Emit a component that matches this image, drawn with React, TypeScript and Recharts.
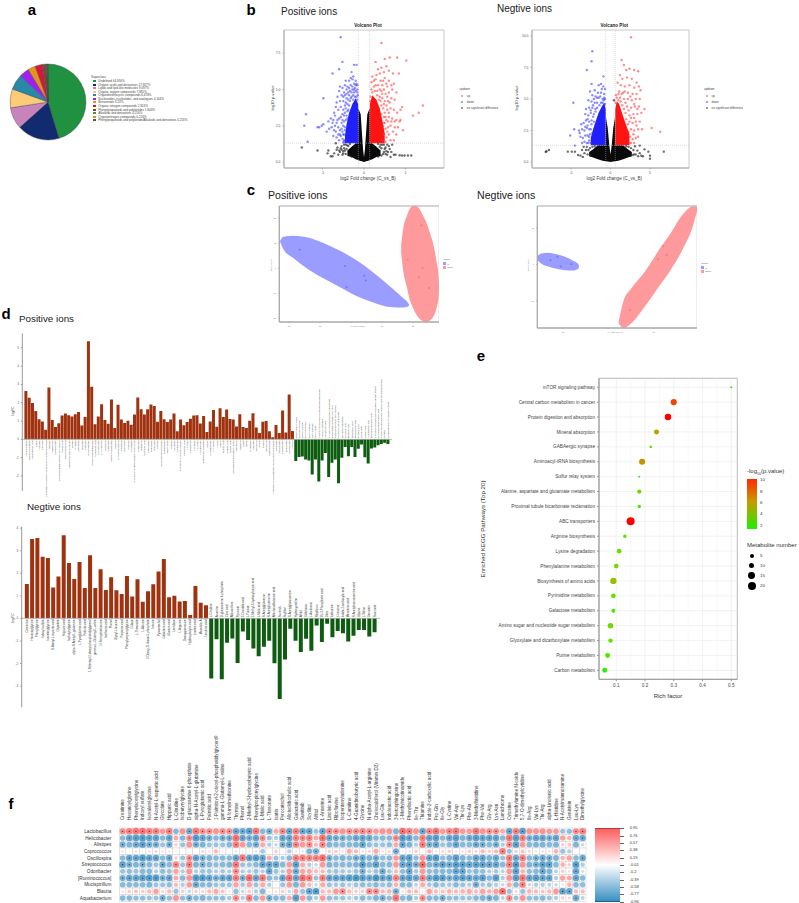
import { Area, Bar, BarChart, CartesianGrid, Cell, ComposedChart, LabelList, Pie, PieChart, ReferenceArea, ReferenceLine, Scatter, ScatterChart, XAxis, YAxis, ZAxis } from 'recharts';

const FONT = '"Liberation Sans", Arial, sans-serif';

// a: superclass pie
const superclassNames = [
  'Undefined 44.950%', 'Organic acids and derivatives 17.927%', 'Lipids and lipid-like molecules 9.097%',
  'Organic oxygen compounds 7.981%', 'Organoheterocyclic compounds 6.478%', 'Nucleosides, nucleotides, and analogues 4.144%',
  'Benzenoids 3.24%', 'Organic nitrogen compounds 2.924%', 'Phenylpropanoids and polyketides 1.844%',
  'Alkaloids and derivatives 0.216%', 'Organonitrogen compounds 0.216%', 'Phenylpropanoids and polyketide/Alkaloids and derivatives 0.216%',
];
const superclassValues = [44.95, 17.927, 9.097, 7.981, 6.478, 4.144, 3.24, 2.924, 1.844, 0.216, 0.216, 0.216];
const superclassColors = ['#1f9140', '#122b6e', '#c983bb', '#fdca78', '#2788a8', '#a020f0', '#e8921c', '#dc143c', '#7a4a3a', '#5b8a3a', '#c79a20', '#555555'];

// b: volcano plots, points read by eye, the dense middle is kept as an outline
const posCoreBlack = [
  [-2, 0.42, 0.8], [-1.5, 0.35, 1.05], [-1, 0.2, 1.3], [-0.7, 0.12, 1.3], [-0.69, 0.12, 3.7], [-0.4, 0.08, 3.3], [-0.25, 0.05, 2], [-0.1, 0.02, 0.8], [0, 0, 0.35],
  [0.1, 0.02, 0.8], [0.25, 0.05, 2], [0.4, 0.08, 3.3], [0.69, 0.12, 3.7], [0.7, 0.12, 1.3], [1, 0.2, 1.3], [1.5, 0.35, 1.05], [2, 0.42, 0.8],
];
const posCoreBlue = [[-2.3, 1.3, 1.8], [-2.1, 1.3, 2.6], [-1.8, 1.3, 3.4], [-1.4, 1.3, 4], [-1, 1.3, 4.4], [-0.7, 1.3, 4]];
const posCoreRed = [[0.7, 1.3, 4], [1, 1.3, 4.6], [1.5, 1.3, 4.3], [1.9, 1.3, 3.7], [2.2, 1.3, 2.9], [2.5, 1.3, 2]];
const posDown = [
  [-2.8, 8.6], [-2.6, 6.9], [-3.8, 6.1], [-3, 6.4], [-1.2, 6.7], [-0.9, 6.7], [-4.9, 4.4], [-7, 3.3], [-7.2, 2.5], [-5.6, 2.4], [-5.4, 2.4], [-5.1, 2.5], [-4.9, 2.6], [-6.8, 1.4],
  [-1.5, 6.2], [-1.3, 5.9], [-1.4, 5.7], [-1, 5.6], [-0.9, 5.4], [-0.8, 5.3], [-1.8, 5.6], [-2, 5.2], [-2.3, 5.3], [-2.6, 5.1], [-2.9, 5.2], [-3, 4.9], [-2.4, 4.8], [-2.7, 4.6],
  [-2.1, 4.7], [-1.7, 4.9], [-1.4, 5], [-1.1, 5.1], [-3.2, 4.5], [-2.9, 4.2], [-2.5, 4.2], [-2.2, 4.1], [-1.9, 4.3], [-3.4, 3.8], [-3.1, 3.6], [-2.8, 3.8], [-2.5, 3.6], [-2.3, 3.4],
  [-4, 3], [-3.7, 2.9], [-3.5, 3.2], [-3.3, 2.7], [-3, 3], [-2.8, 3.1], [-2.6, 2.9], [-2.4, 2.8], [-4.2, 2.3], [-3.9, 2.4], [-3.6, 2.2], [-3.4, 2.1], [-3.1, 2.4], [-2.9, 2.2],
  [-2.7, 2.3], [-2.5, 2.5], [-3.7, 1.8], [-3.3, 1.7], [-3, 1.5], [-2.8, 1.8], [-2.6, 1.6], [-2.4, 1.9], [-2.2, 1.5], [-2.3, 2.2], [-2.1, 3.2], [-1.9, 3.6], [-1.6, 4.4], [-1.3, 4.6], [-0.8, 4.8], [-1, 4.9],
  [-2.4, 1.4], [-2.5, 1.9], [-2.3, 2.4], [-2.2, 2.9], [-2, 3], [-2, 3.5], [-1.8, 3.9], [-1.7, 4.2], [-1.5, 4.5], [-1.3, 4.3], [-1.1, 4.5], [-0.9, 4.5], [-0.8, 4.3], [-0.75, 4.6], [-1.2, 4.8], [-1.5, 4.8],
  [-1.9, 4.8], [-2.1, 4.4], [-2.3, 3.9], [-2.4, 3.2], [-2.6, 3.3], [-2.7, 2.7], [-2.6, 2.1], [-2.9, 1.9], [-3.2, 2.9], [-3.5, 2.5], [-2.2, 3.7], [-1.6, 5.3], [-1.2, 5.4], [-2.2, 5.6], [-1.6, 5.8], [-3.3, 4.1],
  [-3.6, 3.4], [-4.3, 2.8], [-4.5, 2.1], [-2.5, 4.5], [-2.1, 5], [-1.8, 4.6], [-3.8, 2.7], [-3.1, 1.9], [-2.4, 1.5], [-2.5, 1.35], [-2, 4], [-1.2, 5], [-0.8, 5], [-1, 5.3], [-1.4, 5.2], [-1.8, 5.1], [-2.3, 4.6],
];
const posUp = [
  [2.1, 8.2], [3.1, 7.2], [2.5, 7.1], [4, 7.2], [5.1, 7], [1.4, 6.9], [7.1, 3.9], [6.6, 3.4], [5.9, 3.2], [4.6, 3.8], [4.4, 2.9], [4.3, 2.8], [3.9, 2.9], [4.1, 2.4], [4.7, 2.2], [3.7, 2.8],
  [2.7, 6.6], [2.1, 6.5], [3, 6.3], [1.7, 6.4], [1.9, 6.1], [2.4, 6.2], [3.5, 6.1], [4.2, 6.1], [1, 5.9], [1.4, 5.7], [2, 5.6], [2.5, 5.8], [3, 5.6], [3.3, 5.3], [2.8, 5.2], [2.2, 5.3],
  [1.7, 5.3], [1.2, 5.2], [0.9, 5], [3.4, 5], [3, 4.8], [2.6, 4.7], [2.1, 4.9], [1.6, 4.9], [3.7, 4.3], [3.3, 4.4], [2.9, 4.2], [2.5, 4.2], [2.2, 4.4], [1.9, 4.5], [4.4, 3.6], [3.6, 3.6], [3.2, 3.7],
  [2.8, 3.6], [2.5, 3.4], [2.3, 3.7], [3.4, 3], [3, 3.1], [2.7, 2.9], [2.4, 2.7], [3.2, 2.5], [2.9, 2.4], [2.6, 2.3], [2.3, 2.5], [3.5, 2.1], [3, 1.9], [2.7, 1.7], [2.4, 1.9], [2.2, 1.5], [3.2, 1.5], [3.6, 1.5],
  [2.6, 1.4], [2.8, 2.1], [2.5, 2.7], [2.4, 3.1], [2.1, 3.3], [2.1, 3.9], [2, 4.2], [1.8, 4.3], [1.6, 4.6], [1.3, 4.9], [1, 4.8], [0.8, 4.5], [0.75, 4.2], [1.9, 5], [1.4, 5.3], [2.4, 5], [2.7, 5.4],
  [2.8, 4.5], [3.1, 4.1], [2.7, 3.9], [3, 3.4], [3.3, 2.8], [3.7, 2.4], [3.9, 1.9], [2.9, 2.8], [2.6, 3.1], [2.4, 4], [2.2, 4.7], [2.3, 5.6], [1.5, 6], [1.2, 5.6], [0.9, 5.5], [3.6, 5.4], [3.9, 4.8], [4, 3.4],
];
const posFlat = [
  [-7.5, 1], [-5.6, 0.8], [-4.3, 0.8], [-4.4, 0.6], [-4, 0.4], [-3.8, 0.4], [-3.4, 1.3], [-3.2, 1], [-2.9, 0.7], [-2.5, 0.6], [-2.1, 0.9], [-3.6, 0.6], [-3.1, 0.5], [-2.7, 1.1], [-2.4, 1.2], [-3, 0.8],
  [2.1, 0.95], [2.9, 0.7], [3.4, 1.2], [3.6, 0.5], [2.6, 1], [3, 1.1], [2.4, 1.2], [2.8, 0.5], [3.3, 0.7], [4.3, 0.47], [4.6, 0.45], [4.9, 0.45], [5.3, 0.45], [5.7, 0.45], [3.8, 0.5],
  [-2.2, 1.2], [-1.9, 1.1], [-2.4, 0.95], [-2.8, 0.95], [-2.5, 0.75], [-2.2, 0.55], [-3.3, 0.85], [-1.8, 0.5], [-1.5, 0.38], [-2.7, 0.85], [-1.7, 1.25], [-2, 1.15], [-2.6, 0.5], [-2.3, 0.8],
  [2.2, 1.2], [1.9, 1.05], [2.5, 0.9], [2.7, 0.75], [2.3, 0.55], [2.1, 0.45], [1.7, 0.38], [3.1, 0.9], [2.8, 1.2], [3.2, 0.35], [1.7, 1.25], [2, 1.2], [2.4, 0.7], [2.6, 0.55],
];
const negCoreBlack = [
  [-2.7, 0.45, 0.8], [-2.2, 0.35, 1], [-1.6, 0.22, 1.32], [-1, 0.1, 1.32], [-0.6, 0.05, 1.32], [-0.59, 0.05, 3.6], [-0.35, 0.03, 2.7], [-0.15, 0.02, 1.3], [0, 0, 0.6],
  [0.15, 0.02, 1.3], [0.35, 0.03, 2.7], [0.59, 0.05, 3.6], [0.6, 0.05, 1.32], [1, 0.1, 1.32], [1.6, 0.22, 1.32], [2.2, 0.35, 1], [2.7, 0.45, 0.8],
];
const negCoreBlue = [[-2.5, 1.32, 1.9], [-2.2, 1.32, 2.6], [-1.9, 1.32, 3.2], [-1.5, 1.32, 3.9], [-1.1, 1.32, 4.4], [-0.8, 1.32, 4.7], [-0.6, 1.32, 4.2]];
const negCoreRed = [[0.6, 1.32, 4.2], [0.8, 1.32, 4.8], [1.1, 1.32, 4.6], [1.5, 1.32, 3.8], [2, 1.32, 2.9], [2.4, 1.32, 2.2]];
const negDown = [
  [-2.3, 8.8], [-2.4, 8], [-3, 7.3], [-0.9, 6.8], [-2.4, 6.2], [-4.7, 4.7], [-4.6, 2.6], [-5.1, 2.1], [-4.5, 1.3], [-1.5, 6.1], [-1.2, 6.2], [-0.9, 6], [-0.7, 5.8], [-2, 5.7], [-2.6, 5.6], [-1.6, 5.5],
  [-1.2, 5.5], [-0.8, 5.4], [-2.3, 5.3], [-1.9, 5.2], [-1.5, 5.1], [-1, 5], [-2.8, 4.9], [-2.4, 4.8], [-2, 4.7], [-1.7, 4.7], [-3.1, 4.2], [-2.7, 4.3], [-2.3, 4.3], [-1.9, 4.2], [-3.2, 3.8], [-2.8, 3.7],
  [-2.5, 3.9], [-2.2, 3.6], [-3.4, 3.1], [-3.1, 3.3], [-2.7, 3.2], [-2.4, 3], [-4, 2.5], [-3.6, 2.6], [-3.3, 2.5], [-3, 2.7], [-2.7, 2.6], [-3.8, 2], [-3.5, 1.9], [-3.2, 2.1], [-2.9, 2.1], [-2.6, 2.2],
  [-3.6, 1.5], [-3.3, 1.6], [-3, 1.5], [-2.7, 1.7], [-2.5, 1.5], [-2.7, 2], [-2.5, 2.6], [-2.4, 3.3], [-2.1, 3.2], [-2.1, 3.8], [-1.9, 4], [-1.7, 4.3], [-1.4, 4.5], [-1.2, 4.7], [-1, 4.7], [-0.85, 4.9],
  [-0.7, 5], [-0.7, 4.6], [-1.3, 5.2], [-1.7, 5.1], [-2.1, 5], [-2.2, 4.5], [-2.5, 4.1], [-2.9, 3.4], [-2.9, 2.9], [-3.2, 2.8], [-3.7, 3], [-3.9, 2.3], [-2.3, 2.3], [-2.8, 1.5], [-1.1, 5.8], [-0.8, 5.1],
];
const negUp = [
  [2.6, 9.9], [1.4, 8.1], [1.7, 7.7], [2, 7.3], [2.4, 7.4], [3, 7.3], [3.5, 7.2], [5.2, 2.7], [6.3, 2.4], [4.3, 4.2], [1.2, 6.9], [1.5, 6.6], [2.1, 6.7], [2.7, 6.6], [3.3, 6.3], [0.9, 6.3], [1.3, 6.1],
  [1.8, 6], [2.4, 6.1], [3, 5.9], [3.6, 6], [3.8, 5.7], [1.1, 5.6], [1.6, 5.5], [2.2, 5.5], [2.8, 5.4], [3.3, 5.4], [3.7, 5], [3.2, 5], [2.7, 4.9], [2.2, 5], [1.7, 5], [1.2, 5.1], [3.6, 4.4], [3.1, 4.4],
  [2.6, 4.3], [2.1, 4.4], [3.9, 3.9], [3.4, 3.8], [2.9, 3.8], [2.4, 3.7], [3.7, 3.2], [3.2, 3.2], [2.8, 3.1], [2.4, 3.2], [4, 2.6], [3.5, 2.6], [3, 2.5], [2.6, 2.6], [3.2, 1.9], [2.8, 1.8], [2.5, 2], [3, 1.5], [2.6, 1.5],
  [2.4, 1.5], [2.3, 2.4], [2.2, 3], [2, 3.4], [1.9, 3.9], [1.7, 4.2], [1.5, 4.5], [1.3, 4.8], [1, 4.9], [0.8, 5.1], [0.65, 4.7], [0.7, 5.3], [1.4, 5.4], [1.9, 4.7], [2.3, 4.1], [2.6, 3.5], [3, 3.5],
  [3.3, 2.9], [2.9, 2.2], [3.5, 2], [1, 5.4], [1.8, 5.6], [2.5, 5.2], [3, 4.6], [3.4, 4.2],
];
const negFlat = [
  [-8.1, 0.85], [-7.8, 0.95], [-8.2, 0.8], [-5.4, 0.82], [-4.9, 0.82], [-4.5, 0.82], [-3.8, 0.5], [-3.6, 0.95], [-3.3, 0.7], [-3.4, 1.2], [-3, 1.2], [-4.1, 0.55], [-3.5, 0.4], [0.44, 4.9],
  [3.7, 1.3], [3.4, 0.9], [3.1, 1.25], [3.5, 0.45], [3.9, 0.5], [4.8, 0.82], [5, 0.5], [6.75, 0.82], [3.2, 0.6], [4.3, 1], [3.7, 0.7], [4.1, 0.45], [5, 0.25],
  [-2.9, 0.6], [-3.1, 0.95], [-2.6, 1.1], [-2.3, 1.2], [-2.8, 0.95], [-2, 1.25], [2, 1.25], [2.3, 1.2], [2.6, 1.1], [2.9, 0.95], [3, 0.6], [2.8, 0.55], [-2.5, 0.5], [2.5, 0.5],
];

// c: PCA score plots, ellipses are outline samples [x, lower, upper]
const pcaPosBlue = [
  [-22.9, 10.7, 10.7], [-21.8, 7.6, 12.5], [-18.6, 4, 12.9], [-14.3, 0, 12.3], [-8.9, -4, 10], [-3.5, -7.6, 6.9], [1.8, -11.1, 3.1], [7.2, -13.7, -1.7], [12.6, -15.5, -7.3], [16.9, -15.7, -12], [18.5, -15.3, -14], [18.8, -14.7, -14.7],
];
const pcaPosRed = [
  [16.2, 6, 9.3], [16.9, -1.3, 16], [18, -7.3, 20.7], [19, -12.7, 23.7], [20.1, -16, 24.8], [21.2, -18.7, 24.7], [22.3, -20.4, 23.3], [23.3, -21.2, 20.9], [24.4, -21.5, 18], [25.5, -20.9, 14], [26.6, -19.3, 9.3], [27.6, -16, 2.7], [28.3, -11.3, -4], [28.4, -7.3, -7.3],
];
const pcaPosBluePoints = [[-16.5, 7.3], [-1.9, 0.9], [4.3, -3], [4.8, -4.9], [-1.4, -7.6]];
const pcaPosRedPoints = [[22.7, 17], [18.3, 3.3], [23.1, 0], [21.9, -3.6], [25.2, -7.9]];
const pcaNegBlue = [
  [-15.6, 1.2, 2.3], [-14.7, 0.2, 3], [-13.2, -0.6, 3.2], [-11.4, -1.2, 2.8], [-9.5, -1.6, 2.1], [-7.7, -1.7, 1], [-6.6, -1.2, 0.1], [-6.4, -0.6, -0.6],
];
const pcaNegRed = [
  [2.3, -16.2, -15.8], [3.3, -17.5, -10.3], [5.1, -16.2, -6.6], [8.3, -11.2, -1.6], [11.4, -5.7, 4.4], [13.7, -1.6, 8.5], [16.5, 4.4, 13.9], [18.7, 10.8, 16], [19.6, 15, 15.7],
];
const pcaNegBluePoints = [[-12.7, 1.1], [-11.2, 2.1], [-10.4, -0.6], [-8.1, 0]];
const pcaNegRedPoints = [[12, 5], [12.9, 2.6], [11, 1.4], [4.8, -12.6]];

// d: fold change bars
const posUpNames = [
  'Acetylcarnitine', 'Hexanoylcarnitine', 'Pantothenic acid', 'Indole', 'Tyramine', 'L-Proline', '1-Palmitoyl-2-hydroxy-sn-glycero-3-phosphocholine', 'Betaine', 'Trigonelline', 'Nicotinamide',
  'Lysophosphatidylcholine 18:2 isomer', 'Cholic acid', 'Deoxycholic acid', 'Taurocholic acid (hydrate)', 'Uridine', 'Cytidine', 'Adenosine', 'Guanine', 'Xanthine', 'Hypoxanthine',
  'Phenylacetylglutamine', 'Kynurenic acid', 'L-Kynurenine', 'L-Tryptophan', 'Serotonin', 'Tryptamine', 'Indole-3-acetamide', 'Skatole', 'N-Acetylserotonin', 'Melatonin',
  'Carnosine', 'Anserine', 'L-Histidine', '3-Hydroxy-3-methylglutaryl-coenzyme', 'Histamine', 'Imidazole', 'Urocanic acid', 'Spermidine', 'Putrescine', 'Spermine',
  'Choline', 'Glycerophosphocholine', 'Sphinganine', 'Stachydrine', 'Ectoine', 'Ornithine', 'L-Citrulline', '4-Hydroxy-L-proline betaine', 'Pipecolic acid', 'L-Lysine',
  'Cadaverine', 'L-Leucine', 'L-Valine', 'L-Methionine', 'Methionine sulfoxide', 'Taurine', 'Cystathionine', 'L-Tyrosine', 'Tyrosol', 'Vanillin',
  'Ferulic acid', 'Caffeic acid', 'Quinic acid', 'Chlorogenic acid methyl ester', 'Genistein', 'Daidzein', 'Equol', 'Biotin', 'Pyridoxine', 'Thiamine',
  'Riboflavin', 'Niacin', 'Retinol', 'Tocopherol', 'Ergothioneine', '1-Stearoyl-2-arachidonoyl-sn-glycerol-phosphate', 'Oleamide', 'Stearamide', 'Palmitamide', 'Erucamide', 'Linoleamide', 'Ala-Gln',
];
const posUpValues = [
  2.64, 2.27, 1.98, 1.55, 1.1, 0.98, 0.53, 2.83, 1.05, 0.68, 0.88, 1.3, 1.41, 1.32, 1.25, 1.37, 1.49, 0.75, 1.22, 5.35, 2.87, 0.83, 1.25, 1.91, 1.05, 0.85, 2.18, 0.62, 1.89, 1.09, 0.89, 1.02, 0.8, 1.35, 2.28, 1.64, 1.35, 1.65, 1.9, 1.82, 0.96,
  1.55, 1.1, 0.95, 1.08, 1.41, 0.44, 1.09, 0.77, 0.95, 1.12, 1.3, 1.31, 0.86, 1.27, 0.4, 0.97, 1.6, 0.69, 1.7, 1.22, 1.63, 1.11, 1.08, 0.7, 1.37, 0.67, 0.62, 1.02, 1.43, 0.65, 0.34, 0.96, 1.0, 0.44, 0.11, 0.78, 0.34, 1.57, 0.37, 2.45, 0.45,
];
const posDownNames = [
  'Phenylalanyl-valine', 'Isoleucyl-proline', 'Leucyl-alanine', 'Glycyl-tyrosine', 'Prolyl-leucine', 'Valyl-arginine', 'Seryl-lysine', '1-Oleoyl-sn-glycero-3-phosphoethanolamine', 'Threonyl-histidine', 'Aspartyl-glycine',
  'N-Acetyl-D-glucosamine-phosphate', 'Phosphatidylinositol lyso 16:0', 'Monoacylglycerol 18:1 isomer', 'Cer(d18:1/16:0) hydrate', 'Dihydrosphingosine', 'Nervonic acid', 'Behenic acid', 'Lignoceric acid', 'Docosanoic acid', 'Myristic acid',
  'Lauric acid', 'Capric acid', 'Arachidonic acid', 'Eicosapentaenoic acid', '2-Hydroxyhexadecanoylcarnitine sulfate isomer', 'Glycoursodeoxycholic acid', '3-Oxo-4,6-choladienoic acid glycine conjugate isomer', 'Cortisol', 'Corticosterone 21-sulfate hydrate',
];
const posDownValues = [-1.18, -0.97, -0.93, -1.1, -1.15, -1.92, -1.1, -2.3, -1.15, -0.75, -2.05, -1.28, -1.1, -2.4, -1.0, -0.42, -0.92, -0.42, -0.97, -0.52, -0.28, -0.98, -1.32, -0.5, -0.45, -0.32, -0.25, -0.18, -0.25];
const negUpNames = [
  'Creatinine', 'Hexanoylglycine', 'Phenylglycine', 'Indoxyl sulfate', 'Isovalerylglycine', 'N-Acetyl-L-aspartic acid', 'Glycolate', 'Hippuric acid', 'Isobutyrylglycine', 'alpha-N-Acetyl-L-glutamine',
  'L-Pyroglutamic acid', 'Palmitic acid', '1-Palmitoyl-2-oleoyl-phosphatidylglycerol', 'gamma-L-Glutamyl-L-valine', 'N-Formylmethionine', 'Isethionic acid', 'Phenol', 'Glycyl-L-leucine', 'Propionic acid', 'Phenylpropionylglycine',
  'Gulose', 'L-Threonate', 'L-Alanine', '2-Deoxy-D-ribose-5-phosphate', 'Inosine', 'Pyrocatechol', 'Galactaric acid', 'Glucaric acid', 'Lactulose', 'L-Arginine', 'Deoxyguanosine', 'Hydroxybutyric acid', 'Linoleic acid', 'Mesobilin A', 'Levulinic acid',
];
const negUpValues = [1.52, 3.52, 3.56, 2.73, 2.67, 1.37, 1.85, 3.68, 2.45, 1.74, 2.5, 1.34, 2.79, 1.34, 2.17, 1.26, 1.82, 1.24, 1.08, 1.88, 0.97, 1.73, 0.74, 1.2, 1.51, 2.08, 2.63, 0.93, 1.0, 0.75, 0.77, 0.15, 1.43, 0.69, 0.58];
const negDownNames = [
  'L-Citrulline', 'Anserine', 'D-glucosamine 6-phosphate', 'Citric acid', 'Alloxanthine', 'Pyruvate', '3-Oxindole acid', 'L-Fucose', '2-Methyl-3-hydroxybutyric acid', 'L-Malic acid',
  'N-Acetylglutamine', 'N-Acetylputrescine', 'Allantoindibutanoic acid', 'Sunitinib', 'Scyllitol', 'N-Acetylglucosamine', 'Hydroxyproline', 'Alfitol', 'Cellobiose', 'L-Arabinose',
  'Riboflavin', 'DL-3-Phenyllactic acid', 'Oleic', 'Isoleucine', 'L-Leucine', 'Indole-2-carboxylic acid', 'Mevalonic acid', 'N-Acetylmannosamine acid', 'Glycine', 'L-Valine', 'Genistein', 'Succinate',
];
const negDownValues = [-2.66, -0.93, -2.7, -1.08, -0.89, -1.98, -0.58, -0.96, -1.34, -1.68, -1.26, -0.99, -1.99, -3.57, -1.82, -0.46, -0.99, -1.49, -0.9, -1.43, -0.32, -1.05, -0.24, -0.84, -0.56, -0.66, -1.03, -0.77, -0.52, -0.52, -0.8, -0.62];

// e: KEGG enrichment
const keggPathways = [
  'mTOR signaling pathway', 'Central carbon metabolism in cancer', 'Protein digestion and absorption', 'Mineral absorption', 'GABAergic synapse', 'Aminoacyl-tRNA biosynthesis', 'Sulfur relay system',
  'Alanine, aspartate and glutamate metabolism', 'Proximal tubule bicarbonate reclamation', 'ABC transporters', 'Arginine biosynthesis', 'Lysine degradation', 'Phenylalanine metabolism', 'Biosynthesis of amino acids',
  'Pyrimidine metabolism', 'Galactose metabolism', 'Amino sugar and nucleotide sugar metabolism', 'Glyoxylate and dicarboxylate metabolism', 'Purine metabolism', 'Carbon metabolism',
];
const keggRichFactor = [0.5, 0.3, 0.28, 0.24, 0.22, 0.19, 0.18, 0.18, 0.18, 0.15, 0.13, 0.11, 0.1, 0.09, 0.09, 0.09, 0.08, 0.08, 0.07, 0.06];
const keggCounts = [1, 12, 14, 8, 2, 12, 1, 6, 4, 21, 4, 7, 7, 13, 7, 5, 10, 6, 8, 8];
const keggLogP = [2.6, 9, 10, 6, 2.6, 6.5, 2, 3.2, 2.5, 10, 2.5, 3, 3.5, 4.6, 3, 2.2, 3.5, 2.8, 2.5, 2];
const keggMinorTicks = [0.15, 0.25, 0.35, 0.45];

// f: correlation matrix
const genera = ['Lactobacillus', 'Helicobacter', 'Alistipes', 'Coprococcus', 'Oscillospira', 'Streptococcus', 'Odoribacter', '[Ruminococcus]', 'Mucispirillum', 'Blautia', 'Aquabacterium'];
const corrMetabolites = [
  'Creatinine', 'Hexanoylglycine', 'Phenylacetylglycine', 'Indoxyl sulfate', 'Isovalerylglycine', 'N-Acetyl-L-aspartic acid', 'Glycolate', 'Hippuric acid', 'L-Citrulline', 'Isobutyrylglycine',
  'D-glucosamine 6-phosphate', 'alpha-N-Acetyl-L-glutamine', 'L-Pyroglutamic acid', 'Palmitic acid', '1-Palmitoyl-2-oleoyl-phosphatidylglycerol', 'gamma-L-Glutamyl-L-valine', 'N-formylmethionine', 'Thymine', 'Phenol', '2-Methyl-3-hydroxybutyric acid',
  'Phenylpropionylglycine', 'L-Malic acid', 'L-Threonate', 'Isatin', 'Pyrocatechol', 'Alloisolithocholic acid', 'Galactaric acid', 'Sunitinib', 'Scyllitol', 'Alfitol',
  'L-Anserine', 'Linoleic acid', 'Riboflavine', 'Isopentenyladenine', 'L-Carnitine', '4-Guanidinobutyric acid', 'Glycine', 'N-alpha-Acetyl-L-arginine', 'Cholecalciferol (Vitamin D3)', 'Leu-Gln',
  'Indoleacetic acid', '3-ketosphingosine', '1-Methylnicotinamide', 'Phenyllactic acid', 'Ile-Thr', 'Thiamine', 'Indole-2-carboxylic acid', 'Pro-Gln', 'Ile-Gly', 'L-Cystine',
  'Val-Asp', 'Thr-Lys', 'Phe-Ala', '3-Methylhistidine', 'Phe-Val', 'Gly-Arg', 'Lys-Asn', 'Lumichrome', 'Cytosine', 'Trimethylamine N-oxide',
  '5,7-O-dimethylcytidine', 'Ile-Arg', 'Val-Lys', 'Thr-Arg', 'alpha-Linolenic acid', 'L-Histidine', 'N-Acetylmannosamine', 'Genistein', 'Leu-Lys', 'Dimethylglycine',
];
const corrLactobacillus = [0.6, 0.7, 0.75, 0.8, 0.7, 0.7, 0.5, 0.7, -0.5, 0.55, -0.65, 0.75, 0.6, 0.6, 0.55, 0.6, 0.6, -0.7, -0.65, -0.75, 0.75, -0.5, -0.6, 0.4, 0.65, -0.7, 0.7, -0.7, -0.7, -0.4, -0.7, 0.65, 0.6, 0.55, 0.6, 0.6, 0.65, 0.6, 0.5, 0.55, 0.55, -0.55, 0.85, 0.7, 0.55, -0.7, 0.65, 0.8, 0.5, 0.65, 0.75, 0.5, 0.5, 0.75, 0.55, 0.6, 0.6, 0.4, -0.7, 0.7, -0.75, 0.55, 0.55, 0.55, 0.5, 0.5, -0.4, -0.45, 0.6, 0.7];
const corrHelicobacter = [-0.5, -0.7, -0.75, -0.8, -0.7, -0.7, -0.5, -0.7, 0.4, -0.5, 0.6, -0.8, -0.7, -0.6, -0.5, -0.6, -0.6, 0.8, -0.7, -0.6, -0.7, 0.6, -0.4, -0.3, -0.7, -0.7, 0.65, 0.6, 0.65, 0.4, 0.8, -0.65, -0.6, -0.6, -0.55, -0.65, -0.7, -0.65, -0.5, -0.5, -0.5, 0.6, -0.8, -0.7, -0.5, 0.7, -0.7, -0.75, -0.5, -0.7, -0.75, -0.55, -0.65, -0.75, -0.7, -0.7, -0.7, -0.5, 0.75, -0.75, 0.7, -0.6, -0.7, -0.7, -0.6, -0.7, 0.45, 0.35, -0.65, -0.65];
const corrAlistipes = [-0.6, -0.55, -0.65, -0.75, -0.6, -0.6, -0.4, -0.6, 0.2, -0.4, 0.55, -0.6, -0.55, -0.4, -0.4, -0.4, -0.5, 0.7, 0.5, -0.5, -0.6, 0.4, -0.3, -0.2, -0.6, -0.7, 0.65, 0.5, 0.6, 0.3, 0.65, -0.55, -0.5, -0.5, -0.5, -0.55, -0.7, -0.45, -0.4, -0.4, -0.45, 0.4, -0.7, -0.55, -0.3, 0.7, -0.6, -0.7, -0.4, -0.5, -0.7, -0.5, -0.5, -0.65, -0.6, -0.5, -0.6, -0.3, 0.6, -0.75, 0.5, -0.5, -0.55, -0.55, -0.5, -0.55, 0.2, 0.25, -0.55, -0.2];
const corrCoprococcus = [0.1, 0, 0.1, 0.05, 0.1, 0.15, 0.1, 0.1, 0.05, 0, 0, 0, 0.15, 0.1, 0.3, 0.05, 0, -0.1, -0.05, 0.05, -0.1, -0.35, 0, 0.2, 0, -0.3, 0.1, -0.1, -0.55, -0.6, 0.05, 0.2, 0.2, 0.1, 0.4, 0.3, 0.1, 0.15, 0.4, 0.1, 0.15, -0.6, 0.05, 0.1, 0.2, 0.05, 0.3, 0.1, 0.15, 0.2, 0.1, 0.1, 0.2, 0.15, 0.3, 0.2, 0.3, 0.7, -0.4, 0.2, 0.25, 0.15, 0.1, 0.1, 0.1, 0.35, -0.4, -0.3, 0, 0];
const corrOscillospira = [-0.5, -0.7, -0.7, -0.8, -0.7, -0.7, -0.5, -0.65, 0.2, -0.4, 0.6, -0.7, -0.6, -0.55, -0.5, -0.5, -0.5, -0.7, 0.75, -0.7, -0.75, -0.7, 0.4, -0.4, -0.3, -0.5, 0.7, 0.7, 0.65, 0.65, 0.85, -0.6, -0.5, -0.55, -0.5, -0.6, -0.65, -0.55, -0.6, -0.45, -0.5, 0.5, -0.7, -0.75, -0.45, 0.55, -0.7, -0.8, -0.45, -0.55, -0.75, -0.55, -0.5, -0.7, -0.7, -0.55, -0.65, -0.4, 0.7, -0.65, 0.7, -0.5, -0.6, -0.65, -0.6, -0.55, 0.35, 0.45, -0.5, -0.65];
const corrStreptococcus = [-0.75, -0.6, -0.55, -0.6, -0.5, -0.4, -0.65, -0.5, 0.65, -0.4, 0.7, -0.55, -0.6, -0.5, -0.45, -0.5, -0.55, 0.75, -0.4, -0.4, -0.5, -0.7, -0.7, -0.7, -0.5, 0.5, -0.75, 0.4, -0.3, -0.2, 0.5, -0.55, -0.5, -0.5, -0.5, -0.55, -0.8, -0.55, -0.75, -0.5, -0.5, 0.5, -0.7, -0.75, -0.6, 0.85, -0.55, -0.65, -0.75, -0.65, -0.8, -0.75, -0.7, -0.75, -0.75, -0.7, -0.7, -0.5, 0.7, -0.85, 0.55, -0.55, -0.6, -0.75, -0.75, -0.5, 0.35, 0.2, -0.8, -0.3];
const corrOdoribacter = [-0.4, -0.45, -0.4, -0.5, -0.5, -0.3, -0.45, -0.4, 0.45, -0.3, 0.55, -0.3, -0.4, -0.4, -0.3, -0.35, -0.3, 0.6, -0.3, -0.3, -0.4, -0.3, -0.7, -0.4, -0.3, 0.5, -0.65, 0.45, 0.4, 0.3, 0.3, -0.35, -0.4, -0.35, -0.3, -0.4, -0.6, -0.3, -0.4, -0.65, -0.35, 0.3, -0.45, -0.7, -0.35, 0.5, -0.45, -0.5, -0.5, -0.5, -0.7, -0.7, -0.4, -0.5, -0.45, -0.3, -0.35, -0.25, 0.5, -0.75, 0.35, -0.45, -0.5, -0.7, -0.55, -0.25, 0.2, 0.1, -0.7, -0.15];
const corrRuminococcus = [-0.6, -0.7, -0.7, -0.75, -0.8, -0.8, -0.6, -0.7, 0.4, -0.5, 0.55, -0.8, -0.8, -0.7, -0.6, -0.7, -0.7, 0.7, -0.6, 0.85, -0.7, 0.75, -0.5, -0.4, -0.7, 0.8, -0.7, 0.85, 0.7, -0.4, 0.7, -0.7, -0.7, -0.7, -0.75, -0.85, -0.75, -0.65, -0.85, -0.7, -0.7, 0.65, -0.7, -0.75, -0.65, 0.7, -0.65, -0.8, -0.75, -0.6, -0.7, -0.75, -0.7, -0.65, -0.75, -0.5, -0.75, -0.3, 0.55, -0.75, 0.75, -0.7, -0.75, -0.7, -0.7, -0.3, 0.45, 0.4, -0.7, -0.5];
const corrMucispirillum = [-0.5, -0.5, -0.5, -0.5, -0.55, -0.4, -0.4, -0.45, 0.3, -0.3, 0.5, -0.65, -0.5, -0.5, -0.4, -0.4, -0.4, 0.45, -0.35, 0.45, -0.4, 0.4, -0.3, 0.05, -0.4, 0.5, -0.55, 0.5, 0.3, -0.2, 0.4, -0.4, -0.35, -0.4, -0.3, -0.4, -0.45, -0.4, -0.5, -0.4, -0.45, 0.35, -0.5, -0.5, -0.25, 0.4, -0.35, -0.5, -0.4, -0.35, -0.5, -0.4, -0.3, -0.6, -0.35, -0.4, -0.3, -0.2, 0.4, -0.5, 0.65, -0.2, -0.3, -0.3, -0.25, -0.2, 0.1, 0.35, -0.5, -0.45];
const corrBlautia = [0.1, 0.2, 0.25, 0.2, 0.3, 0.45, 0.15, 0.3, -0.4, 0.2, -0.2, 0.2, 0.15, 0.3, 0.4, 0.25, 0.1, -0.45, -0.2, 0.2, -0.3, -0.5, 0.1, 0.1, 0.2, -0.2, 0.4, -0.4, -0.7, -0.8, 0.3, 0.3, 0.5, 0.6, 0.3, 0.2, 0.2, 0.6, 0.6, 0.3, 0.35, -0.6, 0.1, 0.3, 0.3, 0.05, 0.45, 0.3, 0.25, 0.35, 0.3, 0.35, 0.4, 0.3, 0.45, 0.35, 0.45, 0.85, -0.4, 0.15, -0.4, 0.35, 0.3, 0.25, 0.3, 0.5, -0.75, -0.7, 0.3, 0.3];
const corrAquabacterium = [-0.5, -0.5, -0.45, -0.45, -0.4, -0.4, -0.6, -0.45, 0.55, -0.45, -0.6, -0.5, -0.55, -0.45, -0.45, -0.45, -0.35, 0.6, -0.3, 0.7, -0.5, 0.5, -0.6, -0.5, -0.5, 0.4, -0.75, 0.5, -0.5, -0.3, 0.5, -0.45, -0.4, -0.4, -0.3, -0.35, -0.5, -0.4, -0.55, -0.6, -0.45, 0.75, -0.5, -0.55, -0.3, 0.6, -0.5, -0.5, -0.6, -0.45, -0.45, -0.4, -0.4, -0.5, -0.55, -0.6, -0.55, -0.25, 0.6, -0.4, 0.55, -0.45, -0.45, -0.5, -0.4, -0.3, 0.2, 0.15, -0.65, -0.25];
const corrRows = [corrLactobacillus, corrHelicobacter, corrAlistipes, corrCoprococcus, corrOscillospira, corrStreptococcus, corrOdoribacter, corrRuminococcus, corrMucispirillum, corrBlautia, corrAquabacterium];
const corrScale = ['0.95', '0.76', '0.57', '0.38', '0.19', '-0.01', '-0.2', '-0.39', '-0.58', '-0.77', '-0.96'];

const toPoints = (rows: number[][]) => rows.map(([x, y]) => ({ x, y }));
const toBand = (rows: number[][]) => rows.map(([x, lo, hi]) => ({ x, lo, hi }));
const band = (d: any) => [d.lo, d.hi];

function Note({ x, y, size, children, bold, rotate, anchor = 'center', color = '#222' }: any) {
  const shift = anchor === 'center' ? '-50%' : anchor === 'end' ? '-100%' : '0';
  return (
    <div style={{ position: 'absolute', left: x, top: y, fontSize: size, fontWeight: bold ? 700 : 400, color, whiteSpace: 'nowrap', lineHeight: 1, transform: `translate(${shift}, -50%) rotate(${rotate || 0}deg)` }}>
      {children}
    </div>
  );
}

const Dot = (fill: string, opacity: number, r = 1.2) => (p: any) => <circle cx={p.cx} cy={p.cy} r={r} fill={fill} fillOpacity={opacity} />;

function Volcano({ left, xDomain, yDomain, yTicks, vline, hline, coreBlack, coreBlue, coreRed, down, up, flat }: any) {
  const [x0, x1] = xDomain;
  const [y0, y1] = yDomain;
  const tickStyle = { fontSize: 3.4, fill: '#555' };
  return (
    <div style={{ position: 'absolute', left: left - 24, top: 20 }}>
      <ComposedChart width={left === 284 ? 192 : 189} height={175} margin={{ top: 10, right: 8, bottom: 0, left: 0 }}>
        <XAxis type="number" dataKey="x" domain={xDomain} ticks={[-5, 0, 5]} tick={tickStyle} tickSize={1.5} height={27} stroke="#aaa" interval={0} />
        <YAxis type="number" domain={yDomain} ticks={yTicks} tickFormatter={(v: number) => v.toFixed(1)} tick={tickStyle} tickSize={1.5} width={24} stroke="#aaa" interval={0} />
        <Area data={toBand(coreBlack)} dataKey={band} type="linear" fill="#0a0a0a" fillOpacity={1} stroke="none" dot={false} activeDot={false} isAnimationActive={false} />
        <Area data={toBand(coreBlue)} dataKey={band} type="linear" fill="#2020ff" fillOpacity={1} stroke="none" dot={false} activeDot={false} isAnimationActive={false} />
        <Area data={toBand(coreRed)} dataKey={band} type="linear" fill="#ff1414" fillOpacity={1} stroke="none" dot={false} activeDot={false} isAnimationActive={false} />
        <Scatter data={toPoints(flat)} dataKey="y" shape={Dot('#222', 0.65)} isAnimationActive={false} />
        <Scatter data={toPoints(down)} dataKey="y" shape={Dot('#3030ff', 0.55)} isAnimationActive={false} />
        <Scatter data={toPoints(up)} dataKey="y" shape={Dot('#ff3030', 0.55)} isAnimationActive={false} />
        <ReferenceLine x={-vline} stroke="#bbb" strokeWidth={0.5} strokeDasharray="1 1" />
        <ReferenceLine x={vline} stroke="#bbb" strokeWidth={0.5} strokeDasharray="1 1" />
        <ReferenceLine y={hline} stroke="#bbb" strokeWidth={0.5} strokeDasharray="1 1" />
        <ReferenceArea x1={x0} x2={x1} y1={y0} y2={y1} fill="none" stroke="#c8c8c8" strokeWidth={1} />
      </ComposedChart>
    </div>
  );
}

function VolcanoLegend({ x }: { x: number }) {
  const rows = [['up', '#ff3030', 95.7], ['down', '#3030ff', 101.5], ['no significant difference', '#222', 108]];
  return (
    <>
      <Note x={x} y={89.3} size={3} anchor="start" color="#444">updown</Note>
      {rows.map(([label, color, y]: any) => (
        <div key={label}>
          <div style={{ position: 'absolute', left: x + 1.5, top: y - 1, width: 2, height: 2, borderRadius: 2, background: color, opacity: 0.6 }} />
          <Note x={x + 7.5} y={y} size={3} anchor="start" color="#444">{label}</Note>
        </div>
      ))}
    </>
  );
}

function Pca({ left, top, width, height, plotLeft, plotTop, xDomain, yDomain, xTicks, yTicks, blue, red, bluePoints, redPoints }: any) {
  const [x0, x1] = xDomain;
  const [y0, y1] = yDomain;
  const tickStyle = { fontSize: 2.2, fill: '#777' };
  return (
    <div style={{ position: 'absolute', left, top }}>
      <ComposedChart width={width} height={height} margin={{ top: plotTop, right: 0, bottom: 0, left: 0 }}>
        <XAxis type="number" dataKey="x" domain={xDomain} ticks={xTicks} tick={tickStyle} tickSize={1} height={12} stroke="#aaa" interval={0} />
        <YAxis type="number" domain={yDomain} ticks={yTicks} tick={tickStyle} tickSize={1} width={plotLeft} stroke="#aaa" interval={0} />
        <Area data={toBand(blue)} dataKey={band} type="monotone" fill="#9a9cff" fillOpacity={1} stroke="none" dot={false} activeDot={false} isAnimationActive={false} />
        <Area data={toBand(red)} dataKey={band} type="monotone" fill="#ff9a9c" fillOpacity={1} stroke="none" dot={false} activeDot={false} isAnimationActive={false} />
        <Scatter data={toPoints(bluePoints)} dataKey="y" shape={Dot('#7070f0', 0.9, 1)} isAnimationActive={false} />
        <Scatter data={toPoints(redPoints)} dataKey="y" shape={Dot('#f07878', 0.9, 1)} isAnimationActive={false} />
        <ReferenceArea x1={x0} x2={x1} y1={y0} y2={y1} fill="none" stroke="#a8a8a8" strokeWidth={1} />
      </ComposedChart>
    </div>
  );
}

function PcaLegend({ x, y, labels }: any) {
  return (
    <>
      <Note x={x} y={y} size={2.4} anchor="start" color="#555">Group</Note>
      <div style={{ position: 'absolute', left: x, top: y + 2, width: 3, height: 3, background: '#9a9cff' }} />
      <div style={{ position: 'absolute', left: x, top: y + 5.5, width: 3, height: 3, background: '#ff9a9c' }} />
      <Note x={x + 4} y={y + 3.5} size={2.2} anchor="start" color="#555">{labels[0]}</Note>
      <Note x={x + 4} y={y + 7} size={2.2} anchor="start" color="#555">{labels[1]}</Note>
    </>
  );
}

const barLabel = (up: boolean, size: number) => (p: any) => {
  const zero = up ? Math.max(p.y, p.y + p.height) : Math.min(p.y, p.y + p.height);
  const lx = p.x + p.width / 2 + size * 0.35;
  const ly = up ? zero + 1 : zero - 1;
  return (
    <text x={lx} y={ly} fontSize={size} fill="#444" textAnchor={up ? 'end' : 'start'} transform={`rotate(-90 ${lx} ${ly})`}>
      {p.value}
    </text>
  );
};

function FoldBars({ top, height, axisWidth, marginTop, marginBottom, marginRight, domain, ticks, pad, labelSize, upNames, upValues, downNames, downValues, gap }: any) {
  const rows = [
    ...upNames.map((name: string, i: number) => ({ name, up: upValues[i] })),
    ...downNames.map((name: string, i: number) => ({ name, down: downValues[i] })),
  ];
  return (
    <div style={{ position: 'absolute', left: 0, top }}>
      <BarChart width={400} height={height} data={rows} barCategoryGap={gap} margin={{ top: marginTop, right: marginRight, bottom: marginBottom, left: 0 }}>
        <XAxis dataKey="name" hide padding={pad} interval={0} />
        <YAxis type="number" domain={domain} ticks={ticks} allowDataOverflow tick={{ fontSize: 3, fill: '#555' }} tickSize={1.5} width={axisWidth} stroke="#999" interval={0} />
        <ReferenceLine y={0} stroke="#aaa" strokeWidth={0.8} />
        <Bar dataKey="up" stackId="fc" fill="#a0320f" isAnimationActive={false}>
          <LabelList dataKey="name" content={barLabel(true, labelSize)} />
        </Bar>
        <Bar dataKey="down" stackId="fc" fill="#0d5c10" isAnimationActive={false}>
          <LabelList dataKey="name" content={barLabel(false, labelSize)} />
        </Bar>
      </BarChart>
    </div>
  );
}

// green to red ramp of the enrichment plot
const keggColor = (v: number) => {
  const t = Math.min(1, Math.max(0, (v - 2) / 8));
  return `rgb(${Math.round(40 + 215 * Math.pow(t, 0.6))}, ${Math.round(240 * Math.pow(1 - t, 0.58))}, 0)`;
};

const keggRows = keggPathways.map((name, i) => ({ name, y: i + 1, x: keggRichFactor[i], z: keggCounts[i], p: keggLogP[i] }));

const KeggLabel = (p: any) => (
  <text x={p.x} y={p.y + 1.6} fontSize={4.7} fill="#444" textAnchor="end">
    {keggPathways[p.payload.value - 1]}
  </text>
);

function KeggPlot() {
  return (
    <div style={{ position: 'absolute', left: 470, top: 370 }}>
      <ScatterChart width={280} height={340} margin={{ top: 8.3, right: 12.7, bottom: 0, left: 0 }}>
        <CartesianGrid stroke="#e9e9e9" strokeWidth={0.6} />
        {keggMinorTicks.map((v) => <ReferenceLine key={v} x={v} stroke="#f1f1f1" strokeWidth={0.5} />)}
        <XAxis type="number" dataKey="x" domain={[0.04, 0.521]} ticks={[0.1, 0.2, 0.3, 0.4, 0.5]} tick={{ fontSize: 4.6, fill: '#444' }} tickSize={2} height={30.7} stroke="#999" interval={0} />
        <YAxis type="number" dataKey="y" reversed domain={[0.4, 20.6]} ticks={keggRows.map((r) => r.y)} tick={KeggLabel} tickSize={2} width={129} stroke="#999" interval={0} />
        <ZAxis type="number" dataKey="z" domain={[1, 20]} range={[3, 50]} />
        <ReferenceArea x1={0.04} x2={0.521} y1={0.4} y2={20.6} fill="none" stroke="#bdbdbd" strokeWidth={1} />
        <Scatter data={keggRows} isAnimationActive={false}>
          {keggRows.map((r) => <Cell key={r.name} fill={keggColor(r.p)} />)}
        </Scatter>
      </ScatterChart>
    </div>
  );
}

const corrCells = corrRows.flatMap((row, r) => row.map((v, c) => ({ x: c + 1, y: r + 1, v })));
const corrFill = (v: number) => {
  const t = Math.pow(Math.abs(v), 0.7);
  const [cr, cg, cb] = v >= 0 ? [255, 90, 90] : [58, 143, 198];
  const mix = (k: number) => Math.round(255 + (k - 255) * t);
  return `rgb(${mix(cr)}, ${mix(cg)}, ${mix(cb)})`;
};

const CorrCell = (p: any) => {
  const v = p.payload.v;
  const s = 6.67;
  return (
    <g>
      <rect x={p.cx - s / 2} y={p.cy - s / 2} width={s} height={s} fill="#fff" stroke="#d6d6d6" strokeWidth={0.6} />
      <circle cx={p.cx} cy={p.cy} r={Math.min(3.5, Math.max(0.3, 4 * Math.sqrt(Math.abs(v))))} fill={corrFill(v)} />
      {Math.abs(v) >= 0.6 && <circle cx={p.cx} cy={p.cy} r={0.6} fill="#222" />}
    </g>
  );
};

const CorrColumn = (p: any) => (
  <text x={p.x + 1.6} y={p.y} fontSize={4.6} fill="#333" textAnchor="start" transform={`rotate(-90 ${p.x + 1.6} ${p.y})`}>
    {corrMetabolites[p.payload.value - 1]}
  </text>
);

function CorrPlot() {
  return (
    <div style={{ position: 'absolute', left: 0, top: 730 }}>
      <ScatterChart width={600} height={173} margin={{ top: 0, right: 14, bottom: 1.6, left: 0 }}>
        <XAxis type="number" dataKey="x" orientation="top" domain={[0.5, 70.5]} ticks={corrMetabolites.map((_, i) => i + 1)} tick={CorrColumn} tickLine={false} axisLine={false} height={98} interval={0} />
        <YAxis type="number" dataKey="y" reversed domain={[0.5, 11.5]} ticks={genera.map((_, i) => i + 1)} tickFormatter={(v: number) => genera[v - 1]} tick={{ fontSize: 4.7, fill: '#333' }} tickLine={false} axisLine={false} width={119.3} interval={0} />
        <Scatter data={corrCells} shape={CorrCell} isAnimationActive={false} />
      </ScatterChart>
    </div>
  );
}

export default function App() {
  const rowY = [80.7, 84.7, 88.3, 92, 95.3, 99, 102.3, 106, 109.7, 113, 116.7, 120.3];
  return (
    <div style={{ position: 'absolute', left: 0, top: 0, width: 799, height: 903, background: '#fff', fontFamily: FONT, overflow: 'hidden' }}>
      <Note x={32} y={9} size={15} bold anchor="center" color="#000">a</Note>
      <Note x={251} y={8.5} size={15} bold color="#000">b</Note>
      <Note x={251} y={189} size={15} bold color="#000">c</Note>
      <Note x={6} y={313} size={15} bold color="#000">d</Note>
      <Note x={481} y={355} size={15} bold color="#000">e</Note>
      <Note x={11} y={803} size={15} bold color="#000">f</Note>

      <div style={{ position: 'absolute', left: 0, top: 50 }}>
        <PieChart width={100} height={100} margin={{ top: 0, right: 0, bottom: 0, left: 0 }}>
          <Pie data={superclassValues.map((value, i) => ({ name: superclassNames[i], value }))} dataKey="value" cx={48} cy={52} outerRadius={38} startAngle={90} endAngle={-270} stroke="#444" strokeWidth={0.4} isAnimationActive={false}>
            {superclassValues.map((_, i) => <Cell key={i} fill={superclassColors[i]} />)}
          </Pie>
        </PieChart>
      </div>
      <Note x={91} y={76.7} size={3} anchor="start" color="#444">Superclass</Note>
      {superclassNames.map((name, i) => (
        <div key={name}>
          <div style={{ position: 'absolute', left: 93.3, top: rowY[i] - 1.2, width: 2.6, height: 2.4, background: superclassColors[i] }} />
          <Note x={98.3} y={rowY[i]} size={3} anchor="start" color="#444">{name}</Note>
        </div>
      ))}

      <Note x={281} y={12} size={10} anchor="start">Positive ions</Note>
      <Note x={497} y={9} size={10} anchor="start">Negtive ions</Note>
      <Note x={368} y={25.7} size={4.6} bold>Volcano Plot</Note>
      <Note x={614.3} y={25.7} size={4.6} bold>Volcano Plot</Note>
      <Volcano left={284} xDomain={[-9.65, 9.65]} yDomain={[-0.41, 9.1]} yTicks={[0, 2.5, 5, 7.5]} vline={0.69} hline={1.3} coreBlack={posCoreBlack} coreBlue={posCoreBlue} coreRed={posCoreRed} down={posDown} up={posUp} flat={posFlat} />
      <Volcano left={532} xDomain={[-9.94, 9.94]} yDomain={[-0.48, 10.48]} yTicks={[0, 2.5, 5, 7.5, 10]} vline={0.6} hline={1.32} coreBlack={negCoreBlack} coreBlue={negCoreBlue} coreRed={negCoreRed} down={negDown} up={negUp} flat={negFlat} />
      <Note x={368} y={179} size={4.6} color="#444">log2 Fold change (C_vs_B)</Note>
      <Note x={614.3} y={179} size={4.6} color="#444">log2 Fold change (C_vs_B)</Note>
      <Note x={272.7} y={98} size={4.2} rotate={-90} color="#444">log10 p-value</Note>
      <Note x={517} y={98} size={4.2} rotate={-90} color="#444">log10 p-value</Note>
      <VolcanoLegend x={459.3} />
      <VolcanoLegend x={704} />

      <Note x={268} y={195} size={10.6} anchor="start">Positive ions</Note>
      <Note x={477} y={195} size={10.6} anchor="start">Negtive ions</Note>
      <Pca left={260} top={196} width={179.3} height={138} plotLeft={19.3} plotTop={10} xDomain={[-23.1, 28.5]} yDomain={[-21.5, 24.8]} xTicks={[-20, -10, 0, 10, 20]} yTicks={[-20, -10, 0, 10, 20]} blue={pcaPosBlue} red={pcaPosRed} bluePoints={pcaPosBluePoints} redPoints={pcaPosRedPoints} />
      <Pca left={517} top={196} width={180.3} height={144} plotLeft={20.3} plotTop={10} xDomain={[-15.6, 19.6]} yDomain={[-17.5, 16.05]} xTicks={[-10, 0, 10]} yTicks={[-10, 0, 10]} blue={pcaNegBlue} red={pcaNegRed} bluePoints={pcaNegBluePoints} redPoints={pcaNegRedPoints} />
      <Note x={359} y={325.5} size={2.2} color="#777">PC1 (48.2%)</Note>
      <Note x={270.5} y={265} size={2.2} rotate={-90} color="#777">PC2 (23.1%)</Note>
      <Note x={617} y={332} size={2.2} color="#777">PC1 (61.4%)</Note>
      <Note x={528} y={265} size={2.2} rotate={-90} color="#777">PC2 (14.8%)</Note>
      <PcaLegend x={443.3} y={260} labels={['C', 'Model']} />
      <PcaLegend x={701.3} y={264} labels={['C', 'Model']} />

      <Note x={19} y={319} size={9.8} anchor="start">Positive ions</Note>
      <FoldBars top={320} height={195} axisWidth={22.3} marginTop={13.3} marginBottom={24} marginRight={8} domain={[-2.82, 5.79]} ticks={[-2, -1, 0, 1, 2, 3, 4, 5]} pad={{ left: 1.7, right: 2.7 }} labelSize={2.5} gap="12%" upNames={posUpNames} upValues={posUpValues} downNames={posDownNames} downValues={posDownValues} />
      <Note x={13.5} y={411} size={3.4} rotate={-90} color="#444">logFC</Note>
      <Note x={27} y={507} size={9.8} anchor="start">Negtive ions</Note>
      <FoldBars top={510} height={225} axisWidth={21.7} marginTop={16.7} marginBottom={27.7} marginRight={20} domain={[-3.94, 4.06]} ticks={[-3, -2, -1, 0, 1, 2, 3, 4]} pad={{ left: 2.3, right: 3 }} labelSize={2.9} gap="16%" upNames={negUpNames} upValues={negUpValues} downNames={negDownNames} downValues={negDownValues} />
      <Note x={14} y={618} size={3.6} rotate={-90} color="#444">logFC</Note>
      <Note x={216} y={737} size={3} rotate={-90} color="#555">ID</Note>

      <KeggPlot />
      <Note x={483} y={529} size={6.2} rotate={-90} color="#333">Enriched KEGG Pathways (Top 20)</Note>
      <Note x={668} y={695.7} size={6} color="#333">Rich factor</Note>
      <Note x={747} y={471.7} size={6} anchor="start" color="#333">-log<sub style={{ fontSize: 3.6 }}>10</sub>(p.value)</Note>
      <div style={{ position: 'absolute', left: 746.7, top: 479, width: 10, height: 49.7, background: 'linear-gradient(to bottom, #ff2a00, #c79a00 45%, #20f000)' }} />
      {[['10', 480], ['8', 491.7], ['6', 503], ['4', 514.3], ['2', 525.7]].map(([t, y]: any) => (
        <Note key={t} x={760} y={y} size={4.4} anchor="start" color="#333">{t}</Note>
      ))}
      <Note x={747} y={544.7} size={6} anchor="start" color="#333">Metabolite number</Note>
      {[['5', 555.7, 2], ['10', 565.7, 2.8], ['15', 575.7, 3.4], ['20', 586, 4]].map(([t, y, r]: any) => (
        <div key={t}>
          <div style={{ position: 'absolute', left: 751.7 - r, top: y - r, width: 2 * r, height: 2 * r, borderRadius: '50%', background: '#000' }} />
          <Note x={760} y={y} size={4.4} anchor="start" color="#333">{t}</Note>
        </div>
      ))}

      <CorrPlot />
      <div style={{ position: 'absolute', left: 595.3, top: 828.3, width: 24.7, height: 73.4, background: 'linear-gradient(to bottom, #ff5f5f, #ffffff 50%, #3a90c4)', borderTop: '1px solid #a04040', borderBottom: '1px solid #20607f', boxSizing: 'border-box' }} />
      {corrScale.map((t, i) => (
        <div key={t}>
          <div style={{ position: 'absolute', left: 620, top: 828.3 + i * 7.33, width: 4, height: 0.6, background: '#666' }} />
          <Note x={629.7} y={828.3 + i * 7.33} size={4} anchor="start" color="#333">{t}</Note>
        </div>
      ))}
    </div>
  );
}
